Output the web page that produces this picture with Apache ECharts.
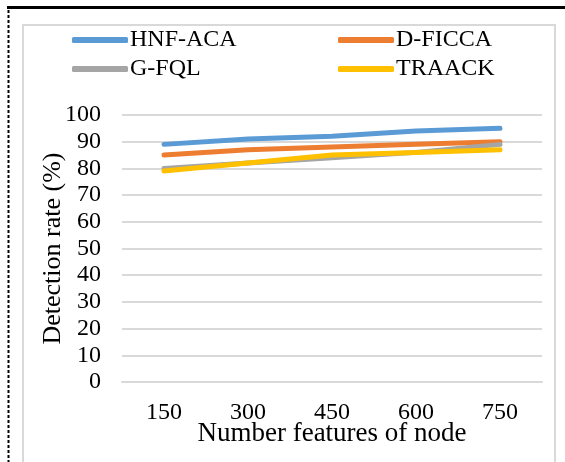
<!DOCTYPE html>
<html>
<head>
<meta charset="utf-8">
<script src="https://cdn.jsdelivr.net/npm/echarts@6/dist/echarts.min.js"></script>
<style>
  html, body { margin: 0; padding: 0; background: #fff; }
  #chart { width: 565px; height: 462px; }
</style>
</head>
<body>
<div id="chart"></div>
<script>
// Detection rate versus number of node features
const categories = ['150', '300', '450', '600', '750'];
const seriesNames = ['HNF-ACA', 'D-FICCA', 'G-FQL', 'TRAACK'];
const hnfAca = [89, 91, 92, 94, 95];
const dFicca = [85, 87, 88, 89, 90];
const gFql = [80, 82, 84, 86, 89];
const traack = [79, 82, 85, 86, 87];
const colors = ['#5B9BD5', '#ED7D31', '#A5A5A5', '#FFC000'];

const serif = "'Liberation Serif', 'Times New Roman', serif";
const values = [hnfAca, dFicca, gFql, traack];

const chart = echarts.init(document.getElementById('chart'), null, { renderer: 'canvas' });

const legendCommon = {
  orient: 'vertical',
  top: 23,
  padding: 5,
  itemWidth: 56,
  itemHeight: 6,
  itemGap: 5,
  icon: 'roundRect',
  selectedMode: false,
  textStyle: { fontFamily: serif, fontSize: 24, color: '#000', padding: [0, 0, 0, -3] }
};

chart.setOption({
  backgroundColor: '#fff',
  animation: false,
  color: colors,
  legend: [
    Object.assign({ left: 67, data: [seriesNames[0], seriesNames[2]] }, legendCommon),
    Object.assign({ left: 333, data: [seriesNames[1], seriesNames[3]] }, legendCommon)
  ],
  grid: { left: 122, right: 23, top: 115, bottom: 80, containLabel: false },
  xAxis: {
    type: 'category',
    data: categories,
    boundaryGap: true,
    name: 'Number features of node',
    nameLocation: 'middle',
    nameGap: 38,
    nameMoveOverlap: false,
    nameTextStyle: { fontFamily: serif, fontSize: 27, color: '#000' },
    axisLine: { show: true, lineStyle: { color: '#d9d9d9', width: 2 } },
    axisTick: { show: false },
    axisLabel: { margin: 19, fontFamily: serif, fontSize: 24, color: '#000' }
  },
  yAxis: {
    type: 'value',
    min: 0,
    max: 100,
    interval: 10,
    name: 'Detection rate (%)',
    nameLocation: 'middle',
    nameGap: 56,
    nameMoveOverlap: false,
    nameTextStyle: { fontFamily: serif, fontSize: 26, color: '#000' },
    axisLine: { show: false },
    axisTick: { show: false },
    axisLabel: { margin: 21, fontFamily: serif, fontSize: 24, color: '#000' },
    splitLine: { lineStyle: { color: '#d9d9d9', width: 2 } }
  },
  series: seriesNames.map((name, i) => ({
    name: name,
    type: 'line',
    data: values[i],
    symbol: 'none',
    lineStyle: { width: 5, color: colors[i], cap: 'round', join: 'round' },
    itemStyle: { color: colors[i] }
  })),
  graphic: [
    {
      type: 'rect',
      z: -1,
      silent: true,
      shape: { x: 23, y: 25, width: 532, height: 460 },
      style: { fill: 'none', stroke: '#d9d9d9', lineWidth: 2 }
    },
    {
      type: 'line',
      silent: true,
      shape: { x1: 7, y1: 7.5, x2: 565, y2: 7.5 },
      style: { stroke: '#000', lineWidth: 3 }
    },
    {
      type: 'line',
      silent: true,
      shape: { x1: 8.5, y1: 10, x2: 8.5, y2: 462 },
      style: { stroke: '#000', lineWidth: 2, lineDash: [3, 2] }
    }
  ]
});
</script>
</body>
</html>
